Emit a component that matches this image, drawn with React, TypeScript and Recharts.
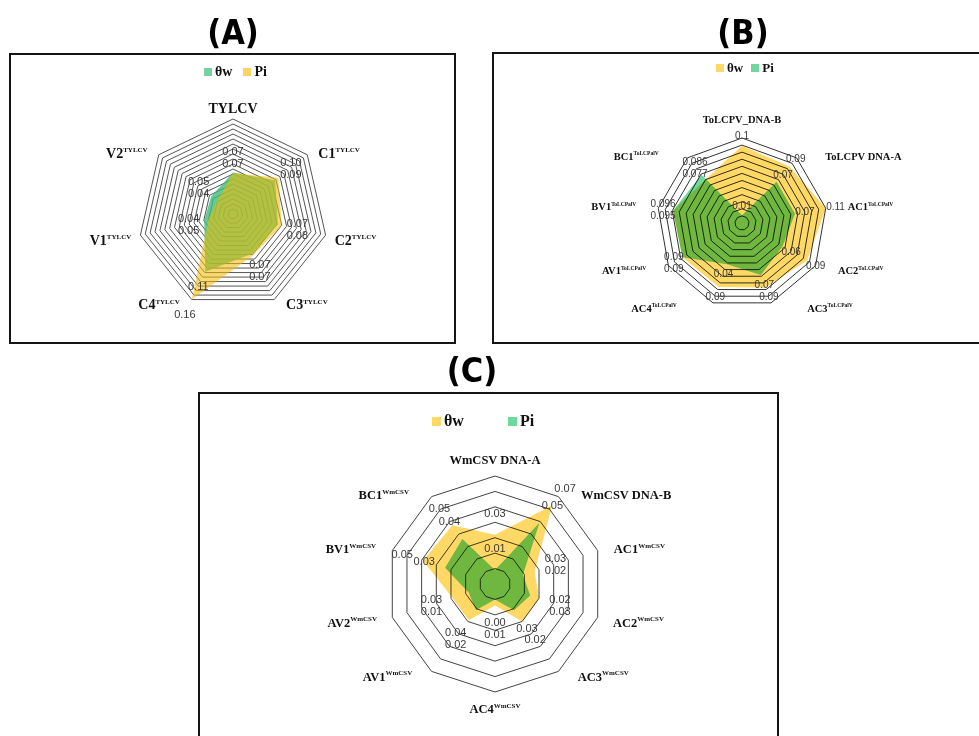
import React from 'react';
import { RadarChart, Radar, PolarGrid, PolarAngleAxis, PolarRadiusAxis, LabelList } from 'recharts';

// (A) TYLCV
const A_AXES = ['TYLCV', 'C1^TYLCV', 'C2^TYLCV', 'C3^TYLCV', 'C4^TYLCV', 'V1^TYLCV', 'V2^TYLCV'];
const A_THETA = [0.083, 0.108, 0.092, 0.088, 0.128, 0.059, 0.056];
const A_PI = [0.082, 0.116, 0.1, 0.092, 0.19, 0.05, 0.041];
const A_THETA_LABELS = ['0.07', '0.10', '0.07', '0.07', '0.11', '0.04', '0.05'];
const A_PI_LABELS = ['0.07', '0.09', '0.08', '0.07', '0.16', '0.05', '0.04'];

// (B) ToLCPV / ToLCPalV
const B_AXES = [
  'ToLCPV_DNA-B', 'ToLCPV DNA-A', 'AC1^ToLCPalV', 'AC2^ToLCPalV', 'AC3^ToLCPalV',
  'AC4^ToLCPalV', 'AV1^ToLCPalV', 'BV1^ToLCPalV', 'BC1^ToLCPalV',
];
const B_THETA = [0.109, 0.104, 0.12, 0.106, 0.097, 0.096, 0.097, 0.099, 0.08];
const B_PI = [0.011, 0.076, 0.076, 0.066, 0.078, 0.062, 0.097, 0.099, 0.089];
const B_THETA_LABELS = ['0.1', '0.09', '0.11', '0.09', '0.09', '0.09', '0.09', '0.096', '0.086'];
const B_PI_LABELS = ['0.01', '0.07', '0.07', '0.06', '0.07', '0.04', '0.09', '0.095', '0.077'];

// (C) WmCSV
const C_AXES = [
  'WmCSV DNA-A', 'WmCSV DNA-B', 'AC1^WmCSV', 'AC2^WmCSV', 'AC3^WmCSV',
  'AC4^WmCSV', 'AV1^WmCSV', 'AV2^WmCSV', 'BV1^WmCSV', 'BC1^WmCSV',
];
const C_THETA = [0.032, 0.063, 0.027, 0.03, 0.03, 0.014, 0.029, 0.029, 0.049, 0.047];
const C_PI = [0.009, 0.049, 0.019, 0.024, 0.021, 0.01, 0.021, 0.018, 0.034, 0.036];
const C_THETA_LABELS = ['0.03', '0.07', '0.03', '0.02', '0.02', '0.00', '0.04', '0.03', '0.05', '0.05'];
const C_PI_LABELS = ['0.01', '0.05', '0.02', '0.03', '0.03', '0.01', '0.02', '0.01', '0.03', '0.04'];

const GREEN = '#6fd89e';
const YELLOW = '#ffd866';
const SERIF = "'Liberation Serif', 'Times New Roman', serif";
const SANS = "'Liberation Sans', Arial, sans-serif";

const PANELS: any[] = [
  {
    title: '(A)', titleX: 233, titleTop: 14,
    left: 9, top: 53, width: 447, height: 291,
    cx: 224, cy: 161, r: 95, max: 0.19, rings: 19, grid: '#555',
    tickGap: 10, topGap: 6, axisFont: 14, supFont: 7, labelFont: 11, labelGap: 16,
    axes: A_AXES, theta: A_THETA, pi: A_PI, thetaLabels: A_THETA_LABELS, piLabels: A_PI_LABELS,
    // yellow laid over the green with plain transparency gives the olive overlap
    thetaColor: '#3dbb7b', thetaOpacity: 0.8, piColor: '#f2b900', piOpacity: 0.55, multiply: false,
    legendTheta: '#77cfa3', legendPi: '#f7d466',
    legend: { left: 195, cy: 19, font: 14, square: 8, gap: 11 },
  },
  {
    title: '(B)', titleX: 743, titleTop: 14,
    left: 492, top: 52, width: 500, height: 292,
    cx: 250, cy: 171, r: 85, max: 0.12, rings: 12, grid: '#333',
    tickGap: 22, topGap: 15, axisFont: 10.5, supFont: 5.5, labelFont: 10, labelGap: 10,
    axes: B_AXES, theta: B_THETA, pi: B_PI, thetaLabels: B_THETA_LABELS, piLabels: B_PI_LABELS,
    thetaColor: YELLOW, thetaOpacity: 1, piColor: GREEN, piOpacity: 1, multiply: true,
    legendTheta: YELLOW, legendPi: GREEN,
    legend: { left: 224, cy: 16, font: 13, square: 8, gap: 8 },
  },
  {
    title: '(C)', titleX: 472, titleTop: 352,
    left: 198, top: 392, width: 581, height: 360,
    cx: 297, cy: 192, r: 108, max: 0.07, rings: 7, grid: '#444',
    tickGap: 16, topGap: 12, axisFont: 12.5, supFont: 7, labelFont: 11, labelGap: 22,
    axes: C_AXES, theta: C_THETA, pi: C_PI, thetaLabels: C_THETA_LABELS, piLabels: C_PI_LABELS,
    thetaColor: YELLOW, thetaOpacity: 1, piColor: GREEN, piOpacity: 1, multiply: true,
    legendTheta: YELLOW, legendPi: GREEN,
    legend: { left: 234, cy: 29, font: 16, square: 9, gap: 44 },
  },
];

const makeAxisTick = (p: any) => (props: any) => {
  const { x, y, payload, index } = props;
  const n = p.axes.length;
  const ang = ((90 - (360 / n) * index) * Math.PI) / 180;
  const c = Math.cos(ang);
  const s = Math.sin(ang);
  const [main, sup] = String(payload.value).split('^');
  const rr = p.r + p.tickGap;
  const vy = p.cy + ((y - p.cy) * p.r) / rr; // level of the outer ring vertex
  let anchor = c > 0 ? 'start' : 'end';
  let tx = x;
  let ty;
  if (Math.abs(c) < 0.05) {
    anchor = 'middle';
    ty = s > 0 ? vy - p.topGap : vy + p.topGap + p.axisFont * 0.75;
  } else {
    const yc = s > 0 ? vy - 2 : vy + 5;
    const d = p.cy - yc;
    const half = Math.sqrt(Math.max(rr * rr - d * d, 0));
    tx = p.cx + (c > 0 ? half : -half);
    ty = yc + p.axisFont * 0.35;
  }
  return (
    <text x={tx} y={ty} textAnchor={anchor} fontFamily={SERIF} fontWeight="bold" fontSize={p.axisFont} fill="#111">
      <tspan>{main}</tspan>
      {sup ? (
        <tspan fontSize={p.supFont} dy={-p.axisFont * 0.42}>
          {sup}
        </tspan>
      ) : null}
    </text>
  );
};

const makeValueLabels = (p: any) => (props: any) => {
  const i = props.index ?? 0;
  const n = p.axes.length;
  const ang = ((90 - (360 / n) * i) * Math.PI) / 180;
  const k = p.r / p.max;
  const at = (v: number) => {
    const rr = v * k + p.labelGap;
    return { x: p.cx + rr * Math.cos(ang), y: p.cy - rr * Math.sin(ang) };
  };
  let p1 = at(p.theta[i]);
  let p2 = at(p.pi[i]);
  if (Math.abs(p1.x - p2.x) < 18 && Math.abs(p1.y - p2.y) < 11) {
    const m = at(Math.max(p.theta[i], p.pi[i]));
    p1 = { x: m.x, y: m.y - 6 };
    p2 = { x: m.x, y: m.y + 6 };
  }
  const common = {
    textAnchor: 'middle' as const,
    dominantBaseline: 'central' as const,
    fontFamily: SANS,
    fontSize: p.labelFont,
    fill: '#3a3a3a',
  };
  return (
    <g>
      <text x={p1.x} y={p1.y} {...common}>{p.thetaLabels[i]}</text>
      <text x={p2.x} y={p2.y} {...common}>{p.piLabels[i]}</text>
    </g>
  );
};

function PanelLegend({ p }: { p: any }) {
  const items = [
    { name: 'θw', color: p.legendTheta },
    { name: 'Pi', color: p.legendPi },
  ];
  const lg = p.legend;
  return (
    <div
      style={{
        position: 'absolute', left: lg.left, top: lg.cy - 10, height: 20,
        display: 'flex', alignItems: 'center', fontFamily: SERIF, fontWeight: 'bold',
        fontSize: lg.font, color: '#111', whiteSpace: 'nowrap',
      }}
    >
      {items.map((it, i) => (
        <div key={it.name} style={{ display: 'flex', alignItems: 'center', marginRight: i === 0 ? lg.gap : 0 }}>
          <span style={{ width: lg.square, height: lg.square, background: it.color, marginRight: 3, display: 'inline-block' }} />
          <span>{it.name}</span>
        </div>
      ))}
    </div>
  );
}

function RadarPanel({ p }: { p: any }) {
  const rows = p.axes.map((axis: string, i: number) => ({ axis, theta: p.theta[i], pi: p.pi[i] }));
  const ringTicks = Array.from({ length: p.rings + 1 }, (_, i) => (i * p.max) / p.rings);
  const blend = p.multiply ? 'blend' : undefined;
  return (
    <div style={{ position: 'absolute', left: p.left, top: p.top, width: p.width, height: p.height }}>
      <RadarChart
        width={p.width}
        height={p.height}
        data={rows}
        cx={p.cx}
        cy={p.cy}
        outerRadius={p.r}
        margin={{ top: 0, right: 0, bottom: 0, left: 0 }}
      >
        <PolarGrid gridType="polygon" radialLines={false} stroke={p.grid} strokeWidth={1} />
        <PolarAngleAxis dataKey="axis" tick={makeAxisTick(p)} tickLine={false} axisLine={false} tickSize={p.tickGap} />
        <PolarRadiusAxis type="number" domain={[0, p.max]} ticks={ringTicks} tick={false} axisLine={false} />
        <Radar
          className={blend}
          dataKey="theta"
          name="θw"
          fill={p.thetaColor}
          fillOpacity={p.thetaOpacity}
          stroke="none"
          isAnimationActive={false}
        />
        <Radar
          className={blend}
          dataKey="pi"
          name="Pi"
          fill={p.piColor}
          fillOpacity={p.piOpacity}
          stroke="none"
          isAnimationActive={false}
        >
          <LabelList dataKey="pi" content={makeValueLabels(p)} />
        </Radar>
      </RadarChart>
      <div style={{ position: 'absolute', inset: 0, border: '2px solid #151515', pointerEvents: 'none' }} />
      <PanelLegend p={p} />
    </div>
  );
}

export default function App() {
  return (
    <div
      style={{
        position: 'absolute', left: 0, top: 0, width: 979, height: 736,
        overflow: 'hidden', background: '#fff',
      }}
    >
      <style>{`.blend path { mix-blend-mode: multiply; }`}</style>
      {PANELS.map((p) => (
        <div
          key={p.title}
          style={{
            position: 'absolute', left: p.titleX - 60, top: p.titleTop, width: 120, textAlign: 'center',
            fontFamily: "'Liberation Sans Narrow', 'DejaVu Sans Condensed', sans-serif",
            fontWeight: 'bold', fontSize: 34, lineHeight: '36px', color: '#000',
          }}
        >
          {p.title}
        </div>
      ))}
      {PANELS.map((p) => (
        <RadarPanel key={p.title + '-chart'} p={p} />
      ))}
    </div>
  );
}
